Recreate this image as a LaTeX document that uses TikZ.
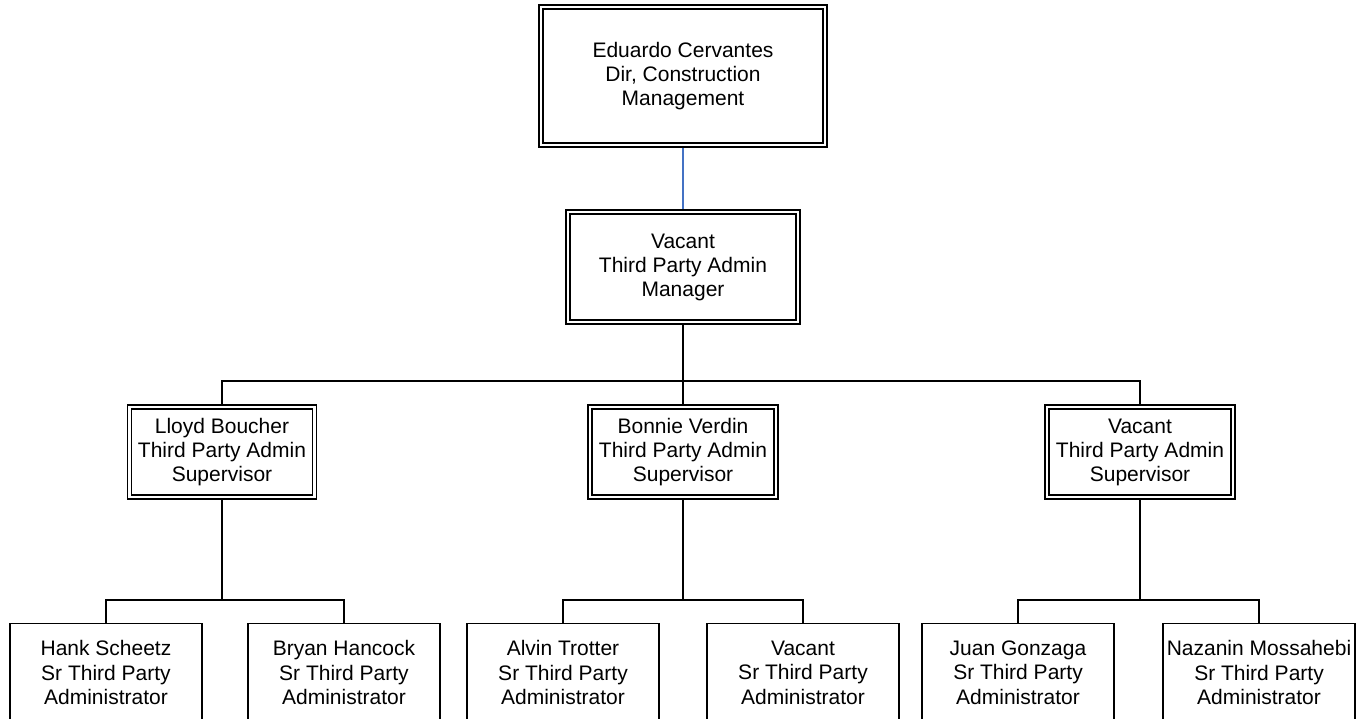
\documentclass[tikz,border=0pt]{standalone}
\usepackage{fontspec}
\setmainfont{Liberation Sans}
\usetikzlibrary{backgrounds}
\definecolor{conblue}{RGB}{68,114,196}
\tikzset{
  dbox/.style={draw=black, fill=white, double=white, double distance=2.6pt, line width=1.3pt,
    inner sep=0pt, align=center, font=\fontsize{21}{24}\selectfont},
  sbox/.style={draw=black, fill=white, line width=1.4pt, inner sep=0pt, align=center,
    minimum width=192pt, minimum height=98pt, font=\fontsize{21}{24.5}\selectfont, anchor=north},
  conn/.style={draw=black, line width=1.4pt},
  topconn/.style={draw=conblue, line width=1.1pt}
}
\begin{document}
\begin{tikzpicture}[x=1pt,y=-1pt]
\useasboundingbox (0,0) rectangle (1356,719);
\clip (0,0) rectangle (1356,719);
\node[dbox, minimum width=284pt, minimum height=138pt] (top) at (683,76) {Eduardo Cervantes\\Dir, Construction\\Management};
\node[dbox, minimum width=230pt, minimum height=110pt] (mgr) at (683,267) {Vacant\\Third Party Admin\\Manager};
\node[dbox, minimum width=185pt, minimum height=90pt] (s1) at (222,452) {Lloyd Boucher\\Third Party Admin\\Supervisor};
\node[dbox, minimum width=186pt, minimum height=90pt] (s2) at (683,452) {Bonnie Verdin\\Third Party Admin\\Supervisor};
\node[dbox, minimum width=186pt, minimum height=90pt] (s3) at (1140,452) {Vacant\\Third Party Admin\\Supervisor};
\node[sbox] (b1) at (106,623) {Hank Scheetz\\Sr Third Party\\Administrator};
\node[sbox] (b2) at (344,623) {Bryan Hancock\\Sr Third Party\\Administrator};
\node[sbox] (b3) at (563,623) {Alvin Trotter\\Sr Third Party\\Administrator};
\node[sbox] (b4) at (803,623) {Vacant\\Sr Third Party\\Administrator};
\node[sbox] (b5) at (1018,623) {Juan Gonzaga\\Sr Third Party\\Administrator};
\node[sbox] (b6) at (1259,623) {Nazanin Mossahebi\\Sr Third Party\\Administrator};
\coordinate (j1) at (683,381);
\coordinate (j2) at (s1.south |- 0,600);
\coordinate (j3) at (s2.south |- 0,600);
\coordinate (j4) at (s3.south |- 0,600);
\begin{scope}[on background layer]
\draw[topconn] (top.south) -- (mgr.north);
\draw[conn] (mgr.south) -- (j1);
\draw[conn] (s1.north) |- (j1) -| (s3.north);
\draw[conn] (j1) -- (s2.north);
\draw[conn] (s1.south) -- (j2);
\draw[conn] (b1.north) |- (j2) -| (b2.north);
\draw[conn] (s2.south) -- (j3);
\draw[conn] (b3.north) |- (j3) -| (b4.north);
\draw[conn] (s3.south) -- (j4);
\draw[conn] (b5.north) |- (j4) -| (b6.north);
\end{scope}
\end{tikzpicture}
\end{document}
